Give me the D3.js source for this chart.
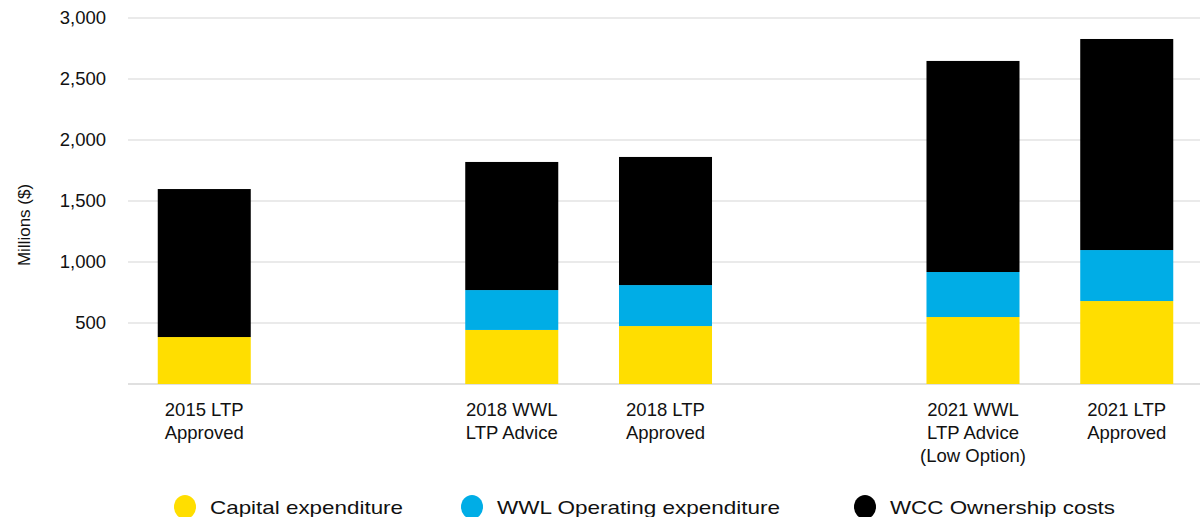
<!DOCTYPE html>
<html>
<head>
<meta charset="utf-8">
<script src="https://cdn.jsdelivr.net/npm/d3@7"></script>
<style>
  body { margin: 0; background: #fff; }
  text { font-family: "Liberation Sans", Arial, sans-serif; fill: #111; }
</style>
</head>
<body>
<script>
// data
var categories = [
  ["2015 LTP", "Approved"],
  ["2018 WWL", "LTP Advice"],
  ["2018 LTP", "Approved"],
  ["2021 WWL", "LTP Advice", "(Low Option)"],
  ["2021 LTP", "Approved"]
];
var groupOf = [0, 1, 1, 2, 2]; // empty slot between groups
var capex = [385, 443, 475, 549, 680];
var opex = [0, 327, 336, 369, 418];
var ownership = [1213, 1050, 1050, 1730, 1730];
var seriesNames = ["Capital expenditure", "WWL Operating expenditure", "WCC Ownership costs"];
var seriesColors = ["#ffde00", "#00ade6", "#000000"];
var yTicks = [500, 1000, 1500, 2000, 2500, 3000];

var width = 1200, height = 517;
var svg = d3.select("body").append("svg").attr("width", width).attr("height", height);

var slots = d3.range(7);
var x = d3.scaleBand().domain(slots).range([127, 1204]).paddingInner(0.395).paddingOuter(0.2);
var y = d3.scaleLinear().domain([0, 3000]).range([384, 18]);

// gridlines
svg.append("g").selectAll("line").data(yTicks).enter().append("line")
  .attr("x1", 128).attr("x2", width)
  .attr("y1", function (d) { return y(d); })
  .attr("y2", function (d) { return y(d); })
  .attr("stroke", "#e3e3e3").attr("stroke-width", 1.3);

svg.append("line").attr("x1", 128).attr("x2", width)
  .attr("y1", y(0)).attr("y2", y(0))
  .attr("stroke", "#d6d6d6").attr("stroke-width", 1.5);

// y tick labels
svg.append("g").selectAll("text").data(yTicks).enter().append("text")
  .attr("x", 106)
  .attr("y", function (d) { return y(d); })
  .attr("dy", "0.35em")
  .attr("text-anchor", "end")
  .attr("font-size", 18.5)
  .text(function (d) { return d3.format(",")(d); });

svg.append("text")
  .attr("transform", "translate(30," + 225 + ") rotate(-90)")
  .attr("text-anchor", "middle")
  .attr("font-size", 17)
  .text("Millions ($)");

// stacked bars
var rows = categories.map(function (c, i) {
  return { slot: i + groupOf[i], vals: [capex[i], opex[i], ownership[i]] };
});
var stack = d3.stack().keys([0, 1, 2]).value(function (d, k) { return d.vals[k]; });
var layers = stack(rows);

svg.append("g").selectAll("g").data(layers).enter().append("g")
  .attr("fill", function (d, i) { return seriesColors[i]; })
  .selectAll("rect").data(function (d) { return d; }).enter().append("rect")
  .attr("x", function (d) { return x(d.data.slot); })
  .attr("width", x.bandwidth())
  .attr("y", function (d) { return y(d[1]); })
  .attr("height", function (d) { return y(d[0]) - y(d[1]); });

// category labels
var lab = svg.append("g").selectAll("text").data(rows).enter().append("text")
  .attr("text-anchor", "middle")
  .attr("font-size", 18.5);
lab.selectAll("tspan").data(function (d, i) {
    return categories[i].map(function (t) { return { t: t, cx: x(d.slot) + x.bandwidth() / 2 }; });
  }).enter().append("tspan")
  .attr("x", function (d) { return d.cx; })
  .attr("y", function (d, i) { return 416 + i * 23; })
  .text(function (d) { return d.t; });

// legend
var legX = [185, 472, 865];
var legW = [193, 283, 225];
var leg = svg.append("g").selectAll("g").data(seriesNames).enter().append("g")
  .attr("transform", function (d, i) { return "translate(" + legX[i] + ",507)"; });
leg.append("ellipse").attr("rx", 11).attr("ry", 12)
  .attr("fill", function (d, i) { return seriesColors[i]; });
leg.append("text").attr("x", 25).attr("dy", "0.35em")
  .attr("font-size", 19)
  .attr("textLength", function (d, i) { return legW[i]; })
  .attr("lengthAdjust", "spacingAndGlyphs")
  .text(function (d) { return d; });
</script>
</body>
</html>
